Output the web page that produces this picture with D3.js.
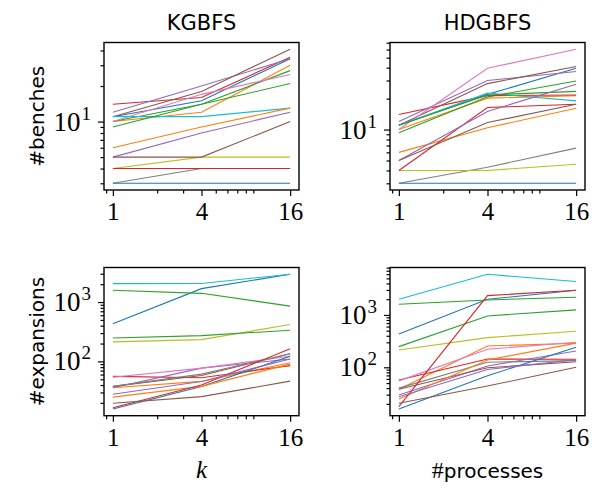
<!DOCTYPE html>
<html>
<head>
<meta charset="utf-8">
<script src="https://cdn.jsdelivr.net/npm/d3@7"></script>
<style>
  body { margin: 0; background: #fff; }
  .sans { font-family: "DejaVu Sans", sans-serif; }
  .math { font-family: "Liberation Serif", "DejaVu Serif", serif; }
</style>
</head>
<body>
<svg id="canvas" width="600" height="491"></svg>
<script>
// valores de x (k o #processes) y textos
const xValues = [1, 4, 16]
const xTicks = [1, 4, 16]
const titles = ["KGBFS", "HDGBFS"]
const yLabels = ["#benches", "#expansions"]

// cada fila es una serie: valor en x = 1, 4, 16 (orden del ciclo de colores)
const benchesKGBFS = [
  [11, 15, 34], [10, 12, 30], [10, 14, 27], [14, 16, 35], [12, 20, 34],
  [11, 18, 41], [10, 17, 25], [3, 4, 4], [4, 5, 5], [11, 11, 13],
  [3, 3, 3], [6, 9, 13], [9, 14, 21], [4, 4, 4], [5, 8, 12], [5, 5, 10]
]
const benchesHDGBFS = [
  [11, 22, 39.5], [10, 20.2, 21.3], [9.3, 20.8, 29.7], [14, 21.4, 21.7], [12, 30, 36.7],
  [11, 28, 41], [10, 39.5, 60.5], [3, 4.3, 6.6], [4, 4, 4.6], [11, 22.6, 19],
  [3, 3, 3], [6, 10.4, 16.1], [11, 21.7, 23.5], [4, 16.4, 17.6], [5, 15, 27.6], [5, 11.7, 17.6]
]
const expansionsKGBFS = [
  [430, 1683, 2943], [36, 46, 95], [1578, 1403, 855], [56, 53, 85], [36, 77, 110],
  [38, 58, 135], [54, 77, 122], [38, 61, 135], [213, 233, 418], [2046, 2058, 2943],
  [15.8, 37.7, 122], [25, 38, 90], [248, 272, 335], [16.6, 40, 164], [28, 46, 110], [19.7, 25.5, 46.5]
]
const expansionsHDGBFS = [
  [433, 1990, 2960], [38, 255, 288], [1600, 1935, 2180], [57, 144, 142], [29.5, 106, 205],
  [38, 98, 128], [55, 221, 301], [40, 125, 134], [214, 369, 488], [1990, 5990, 4340],
  [16, 69, 241], [24.8, 138, 290], [248, 957, 1247], [17.7, 2340, 2960], [27.4, 91, 140], [20.5, 43.8, 100]
]

const canvas = d3.select("#canvas")
const color = d3.scaleOrdinal(d3.schemeCategory10)

// posiciones de los paneles
const cols = [[104, 299], [390, 585]]
const rows = [[42.5, 190], [267.5, 415.7]]

const panels = [
  { data: benchesKGBFS, col: 0, row: 0 },
  { data: benchesHDGBFS, col: 1, row: 0 },
  { data: expansionsKGBFS, col: 0, row: 1 },
  { data: expansionsHDGBFS, col: 1, row: 1 }
]

// dominio logaritmico con 5% de margen como matplotlib
const logDomain = (lo, hi) => {
  const a = Math.log10(lo), b = Math.log10(hi), m = (b - a) * 0.05
  return [Math.pow(10, a - m), Math.pow(10, b + m)]
}

// ticks menores de escala log (2..9 por decada)
const minorTicks = (domain) => {
  const out = []
  for (let d = Math.floor(Math.log10(domain[0])); d <= Math.ceil(Math.log10(domain[1])); d++) {
    for (let m = 2; m <= 9; m++) {
      const v = m * Math.pow(10, d)
      if (v >= domain[0] && v <= domain[1]) out.push(v)
    }
  }
  return out
}
const majorTicks = (domain) => {
  const out = []
  for (let d = Math.floor(Math.log10(domain[0])); d <= Math.ceil(Math.log10(domain[1])); d++) {
    const v = Math.pow(10, d)
    if (v >= domain[0] && v <= domain[1]) out.push(v)
  }
  return out
}

const xDomain = logDomain(d3.min(xValues), d3.max(xValues))

panels.forEach(p => {
  const [x0, x1] = cols[p.col]
  const [y0, y1] = rows[p.row]
  const all = p.data.flat()
  const yDomain = logDomain(d3.min(all), d3.max(all))

  const x = d3.scaleLog().domain(xDomain).range([x0, x1])
  const y = d3.scaleLog().domain(yDomain).range([y1, y0])

  const g = canvas.append("g")

  // lineas
  const line = d3.line().x((d, i) => x(xValues[i])).y(d => y(d))
  g.selectAll("path.serie")
    .data(p.data)
    .enter()
    .append("path")
    .attr("class", "serie")
    .attr("d", line)
    .attr("fill", "none")
    .attr("stroke", (d, i) => color(i))
    .attr("stroke-width", 1.1)

  // eje x
  const xMinor = minorTicks(xDomain).filter(v => !xTicks.includes(v))
  const xAxisMinor = d3.axisBottom(x).tickValues(xMinor).tickSize(3.5).tickFormat("")
  const xAxisMajor = d3.axisBottom(x).tickValues(xTicks).tickSize(6).tickPadding(4).tickFormat(d3.format("d"))
  g.append("g").attr("transform", "translate(0," + y1 + ")").call(xAxisMinor)
  const gx = g.append("g").attr("transform", "translate(0," + y1 + ")").call(xAxisMajor)
  gx.selectAll("text")
    .attr("class", "math")
    .attr("font-size", 25)
    .attr("fill", "#000")
    .attr("dy", "0.8em")

  // eje y
  const yMajor = majorTicks(yDomain)
  const yAxisMinor = d3.axisLeft(y).tickValues(minorTicks(yDomain)).tickSize(3.5).tickFormat("")
  const yAxisMajor = d3.axisLeft(y).tickValues(yMajor).tickSize(6).tickFormat("")
  g.append("g").attr("transform", "translate(" + x0 + ",0)").call(yAxisMinor)
  g.append("g").attr("transform", "translate(" + x0 + ",0)").call(yAxisMajor)

  // etiquetas 10^n
  yMajor.forEach(v => {
    const t = g.append("text")
      .attr("class", "math")
      .attr("x", x0 - 13)
      .attr("y", y(v) + 9)
      .attr("text-anchor", "end")
      .attr("font-size", 27)
    t.append("tspan").text("10")
    t.append("tspan").attr("font-size", 19).attr("dy", -11).attr("dx", 1).text(Math.round(Math.log10(v)))
  })

  g.selectAll(".domain").remove()
  g.selectAll(".tick line").attr("stroke", "#000").attr("stroke-width", 1.2)

  // marco
  g.append("rect")
    .attr("x", x0).attr("y", y0)
    .attr("width", x1 - x0).attr("height", y1 - y0)
    .attr("fill", "none")
    .attr("stroke", "#000")
    .attr("stroke-width", 1.4)
})

// titulos
titles.forEach((t, i) => {
  canvas.append("text")
    .attr("class", "sans")
    .attr("x", (cols[i][0] + cols[i][1]) / 2)
    .attr("y", 30)
    .attr("text-anchor", "middle")
    .attr("font-size", 21)
    .text(t)
})

// etiquetas del eje y
yLabels.forEach((t, i) => {
  const cy = (rows[i][0] + rows[i][1]) / 2
  canvas.append("text")
    .attr("class", "sans")
    .attr("transform", "translate(44," + cy + ") rotate(-90)")
    .attr("text-anchor", "middle")
    .attr("font-size", 20)
    .text(t)
})

// etiquetas del eje x
canvas.append("text")
  .attr("class", "math")
  .attr("x", (cols[0][0] + cols[0][1]) / 2)
  .attr("y", 478)
  .attr("text-anchor", "middle")
  .attr("font-size", 25)
  .attr("font-style", "italic")
  .text("k")

const xl = canvas.append("text")
  .attr("x", (cols[1][0] + cols[1][1]) / 2)
  .attr("y", 478)
  .attr("text-anchor", "middle")
xl.append("tspan").attr("class", "math").attr("font-size", 24).text("#")
xl.append("tspan").attr("class", "sans").attr("font-size", 20).text("processes")
</script>
</body>
</html>
